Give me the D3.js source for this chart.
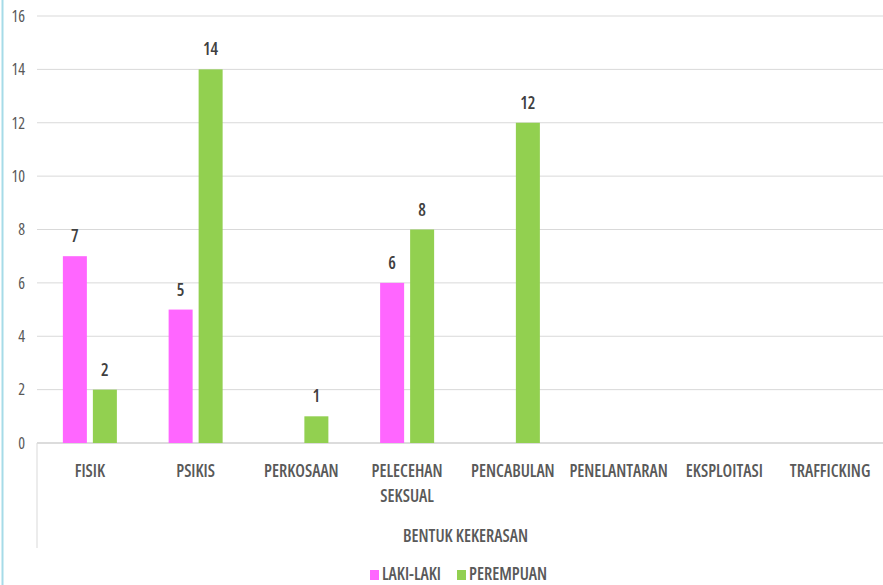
<!DOCTYPE html>
<html><head><meta charset="utf-8">
<script src="https://cdn.jsdelivr.net/npm/d3@7"></script>
<style>
body{margin:0;background:#fff;}
svg{display:block;font-family:"Open Sans",sans-serif;font-stretch:75%;}
</style></head><body>
<svg id="c" width="883" height="585"></svg>
<script>
const categories = ["FISIK","PSIKIS","PERKOSAAN","PELECEHAN SEKSUAL","PENCABULAN","PENELANTARAN","EKSPLOITASI","TRAFFICKING"];
const lakiLaki = [7,5,null,6,null,null,null,null];
const perempuan = [2,14,1,8,12,null,null,null];
const seriesNames = ["LAKI-LAKI","PEREMPUAN"];
const yTicks = [0,2,4,6,8,10,12,14,16];
const axisTitle = "BENTUK KEKERASAN";

(function(){
const colors = ["#ff66ff","#92d050"];
const svg = d3.select("#c");
const mLeft = 37, mRight = 883, mTop = 16, mBottom = 443;

svg.append("line").attr("x1",2.5).attr("x2",2.5).attr("y1",0).attr("y2",585)
  .attr("stroke","#a6dbe8").attr("stroke-width",2);

const x = d3.scaleBand().domain(categories).range([mLeft,mRight]);
const y = d3.scaleLinear().domain([0,16]).range([mBottom,mTop]);
const xs = d3.scaleBand().domain(seriesNames).range([0,x.bandwidth()]).paddingInner(0.2).paddingOuter(0.8625);

svg.append("g").selectAll("line").data(yTicks).join("line")
  .attr("x1",mLeft).attr("x2",mRight).attr("y1",d=>y(d)).attr("y2",d=>y(d))
  .attr("stroke",d=>d===0?"#d0d0d0":"#d9d9d9").attr("stroke-width",d=>d===0?1.5:1);

svg.append("g").selectAll("text").data(yTicks).join("text")
  .attr("x",25).attr("y",d=>y(d)).attr("dy","0.36em").attr("text-anchor","end")
  .attr("font-size",16).attr("fill","#595959").text(d=>d);

const data = [lakiLaki, perempuan];
data.forEach((vals,si)=>{
  const g = svg.append("g");
  const pts = categories.map((c,i)=>({c,v:vals[i]})).filter(d=>d.v!=null);
  g.selectAll("rect").data(pts).join("rect")
    .attr("x",d=>x(d.c)+xs(seriesNames[si]))
    .attr("width",xs.bandwidth())
    .attr("y",d=>y(d.v)).attr("height",d=>y(0)-y(d.v))
    .attr("fill",colors[si]);
  g.selectAll("text").data(pts).join("text")
    .attr("x",d=>x(d.c)+xs(seriesNames[si])+xs.bandwidth()/2)
    .attr("y",d=>y(d.v)-14).attr("text-anchor","middle")
    .attr("font-size",17).attr("font-weight","600").attr("fill","#404040").text(d=>d.v);
});

svg.append("line").attr("x1",mLeft).attr("x2",mLeft).attr("y1",mBottom).attr("y2",548)
  .attr("stroke","#d9d9d9");

const cl = svg.append("g").selectAll("text").data(categories).join("text")
  .attr("x",d=>x(d)+x.bandwidth()/2).attr("y",477).attr("text-anchor","middle")
  .attr("font-size",17).attr("font-weight","600").attr("fill","#595959");
cl.each(function(d){
  const words = d==="PELECEHAN SEKSUAL" ? ["PELECEHAN","SEKSUAL"] : [d];
  d3.select(this).selectAll("tspan").data(words).join("tspan")
    .attr("x",x(d)+x.bandwidth()/2).attr("dy",(w,i)=>i?25:0).text(w=>w);
});

svg.append("text").attr("x",465.5).attr("y",542).attr("text-anchor","middle")
  .attr("font-size",17).attr("font-weight","600").attr("fill","#595959").text(axisTitle);

const lg = svg.append("g");
const lx = [370,457];
seriesNames.forEach((n,i)=>{
  lg.append("rect").attr("x",lx[i]).attr("y",570).attr("width",9).attr("height",10).attr("fill",colors[i]);
  lg.append("text").attr("x",lx[i]+12).attr("y",580).attr("font-size",17).attr("font-weight","600")
    .attr("fill","#595959").text(n);
});
})();
</script></body></html>
